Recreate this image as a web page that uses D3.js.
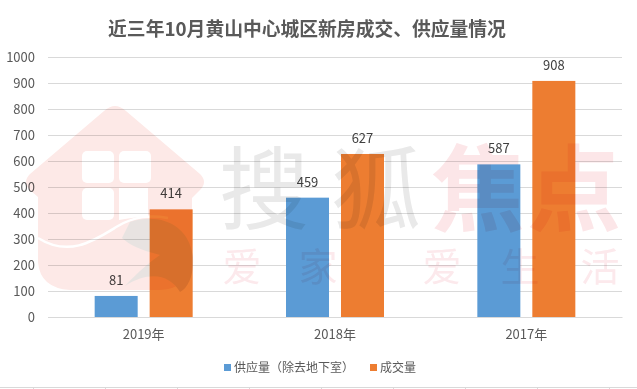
<!DOCTYPE html>
<html>
<head>
<meta charset="utf-8">
<script src="https://cdn.jsdelivr.net/npm/d3@7"></script>
<style>
html, body { margin: 0; padding: 0; background: #fff; }
svg { display: block; }
text { font-family: "Noto Sans CJK SC", "Noto Sans", sans-serif; }
</style>
</head>
<body>
<div class="graph"></div>
<script>
const titleText = "近三年10月黄山中心城区新房成交、供应量情况";
const years = ["2019年", "2018年", "2017年"];
const seriesNames = ["供应量（除去地下室）", "成交量"];
const supply = [81, 459, 587];
const sold = [414, 627, 908];
const yTicks = [0, 100, 200, 300, 400, 500, 600, 700, 800, 900, 1000];
const seriesColors = ["#5b9bd5", "#ed7d31"];

let margin = {top: 57, right: 15, bottom: 72, left: 48},
    width = 637 - margin.left - margin.right,
    height = 389 - margin.top - margin.bottom;

let root = d3.select(".graph")
    .append("svg")
    .attr("width", 637)
    .attr("height", 389);

let svg = root.append("g")
    .attr("transform", "translate(" + margin.left + "," + margin.top + ")");

let x = d3.scaleBand().domain(years).range([0, width]);
let x1 = d3.scaleBand().domain(seriesNames).range([-49, 49]).paddingInner(0.218);
let y = d3.scaleLinear().domain([0, 1000]).range([height, 0]);

// grid + y axis
let yAxis = svg.append("g")
    .call(d3.axisLeft(y).tickValues(yTicks).tickFormat(d3.format("d")).tickSize(-width).tickPadding(13));
yAxis.select(".domain").remove();
yAxis.selectAll("line").attr("stroke", "#d9d9d9").attr("stroke-width", 1);
yAxis.selectAll("text").attr("fill", "#595959").style("font-size", "13px");

let xAxis = svg.append("g")
    .attr("transform", "translate(0," + height + ")")
    .call(d3.axisBottom(x).tickSize(0).tickPadding(13));
xAxis.select(".domain").attr("stroke", "#d9d9d9");
xAxis.selectAll("text").attr("fill", "#595959").style("font-size", "13px");

// bars
[supply, sold].forEach(function(values, s) {
    let rows = years.map(function(yr, i) { return {year: yr, value: values[i]}; });
    let center = function(d) { return x(d.year) + x.bandwidth() / 2; };

    svg.selectAll(".bar" + s)
        .data(rows)
        .enter()
        .append("rect")
        .attr("x", function(d) { return center(d) + x1(seriesNames[s]); })
        .attr("y", function(d) { return y(d.value); })
        .attr("width", x1.bandwidth())
        .attr("height", function(d) { return height - y(d.value); })
        .attr("fill", seriesColors[s]);

    svg.selectAll(".label" + s)
        .data(rows)
        .enter()
        .append("text")
        .attr("x", function(d) { return center(d) + x1(seriesNames[s]) + x1.bandwidth() / 2; })
        .attr("y", function(d) { return y(d.value) - 11; })
        .attr("text-anchor", "middle")
        .attr("fill", "#404040")
        .style("font-size", "13px")
        .text(function(d) { return d.value; });
});

// title
root.append("text")
    .attr("x", 307)
    .attr("y", 36)
    .attr("text-anchor", "middle")
    .attr("fill", "#595959")
    .style("font-size", "18.8px")
    .style("font-weight", "bold")
    .text(titleText);

// legend
let legendX = [224, 370];
seriesNames.forEach(function(name, i) {
    root.append("rect")
        .attr("x", legendX[i])
        .attr("y", 364)
        .attr("width", 7)
        .attr("height", 7)
        .attr("fill", seriesColors[i]);
    root.append("text")
        .attr("x", legendX[i] + 10)
        .attr("y", 372)
        .attr("fill", "#595959")
        .style("font-size", "12px")
        .text(name);
});

// watermark goes over the chart, multiply so the bars show through
let mark = root.append("g").style("mix-blend-mode", "multiply");

mark.append("path")
    .attr("fill", "#fde9e7")
    .attr("d", "M115,106 Q120,106 126,111 L200,174 Q208,182 200,190 L192,198 L192,262 Q190,288 160,290 L70,290 Q40,288 38,262 L38,197 L30,190 Q22,182 30,174 L104,111 Q110,106 115,106Z");

// house windows
[[82, 151], [119, 151], [82, 188]].forEach(function(p) {
    mark.append("rect")
        .attr("x", p[0])
        .attr("y", p[1])
        .attr("width", 32)
        .attr("height", 32)
        .attr("rx", 5)
        .attr("fill", "#fff");
});
mark.append("path")
    .attr("fill", "#fff")
    .attr("d", "M119,188 L148,188 L148,216 Q130,218 119,220Z");

// wave through the house
mark.append("path")
    .attr("fill", "none")
    .attr("stroke", "#fff")
    .attr("stroke-width", 2.5)
    .attr("d", "M38,238 C70,258 95,240 118,226 C135,216 150,215 168,218");

mark.append("path")
    .attr("fill", "#e8e3e1")
    .attr("d", "M130,222 C160,212 190,225 193,258 C194,275 188,288 180,292 C170,275 150,270 125,286 C140,270 150,262 160,255 C140,250 130,245 122,238Z");

let markWords = [
    {t: "搜", x: 264, y: 222, size: 90, color: "#e9e9e9"},
    {t: "狐", x: 376, y: 222, size: 90, color: "#e9e9e9"},
    {t: "焦", x: 478, y: 224, size: 94, color: "#fce6e8"},
    {t: "点", x: 574, y: 224, size: 94, color: "#fce6e8"},
    {t: "爱", x: 242, y: 281, size: 39, color: "#fce9ec"},
    {t: "家", x: 318, y: 281, size: 39, color: "#fce9ec"},
    {t: "爱", x: 442, y: 281, size: 39, color: "#fce9ec"},
    {t: "生", x: 520, y: 281, size: 39, color: "#fce9ec"},
    {t: "活", x: 600, y: 281, size: 39, color: "#fce9ec"}
];
mark.selectAll(".word")
    .data(markWords)
    .enter()
    .append("text")
    .attr("x", function(d) { return d.x; })
    .attr("y", function(d) { return d.y; })
    .attr("text-anchor", "middle")
    .attr("fill", function(d) { return d.color; })
    .style("font-size", function(d) { return d.size + "px"; })
    .style("font-weight", function(d) { return d.t == "焦" || d.t == "点" ? "bold" : "normal"; })
    .text(function(d) { return d.t; });

// edge of the table under the picture
root.append("line")
    .attr("x1", 0).attr("x2", 637)
    .attr("y1", 387.5).attr("y2", 387.5)
    .attr("stroke", "#d9d9d9");
d3.range(33, 637, 72).forEach(function(tx) {
    root.append("line")
        .attr("x1", tx + 0.5).attr("x2", tx + 0.5)
        .attr("y1", 387).attr("y2", 389)
        .attr("stroke", "#d9d9d9");
});
</script>
</body>
</html>
